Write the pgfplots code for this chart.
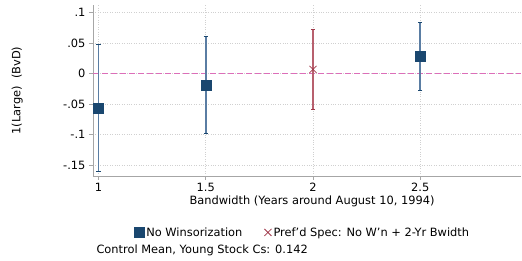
\documentclass[border=0pt]{standalone}
\usepackage{fontspec}
\setmainfont{DejaVu Sans}
\usepackage{pgfplots}
\pgfplotsset{compat=1.18}
\definecolor{navy}{HTML}{1A476F}
\definecolor{navyci}{HTML}{5A7DA3}
\definecolor{cran}{HTML}{A0394A}
\definecolor{cranci}{HTML}{B8606E}
\definecolor{gridc}{HTML}{D0D0D0}
\definecolor{axc}{HTML}{A6A6A6}
\newcommand{\fs}{\fontsize{11.4}{13}\selectfont}
\begin{document}
\begin{tikzpicture}[x=1pt,y=1pt]
\path[use as bounding box] (0,0) rectangle (522,261);
\begin{axis}[
  at={(93pt,85pt)}, anchor=south west,
  scale only axis, width=428pt, height=171pt,
  xmin=0.974, xmax=2.97, ymin=-0.168, ymax=0.112,
  axis lines*=left, axis line style={axc,-, line width=0.8pt},
  xtick={1,1.5,2,2.5}, xticklabels={1,1.5,2,2.5},
  ytick={-0.15,-0.1,-0.05,0,0.05,0.1},
  yticklabels={-.15,-.1,-.05,0,.05,.1},
  /pgf/number format/assume math mode=true,
  tick style={axc, line width=0.6pt}, tick align=outside, major tick length=4pt,
  ticklabel style={font=\fs, text=black},
  xmajorgrids, ymajorgrids,
  grid style={gridc, dotted, line width=0.7pt},
  xlabel={Bandwidth (Years around August 10, 1994)},
  ylabel={1(Large)\ \ (BvD)},
  label style={font=\fs},
  xlabel style={xshift=5pt, yshift=3pt},
  ylabel style={at={(axis description cs:-0.177,0.5)}, anchor=center},
  clip=false,
  legend columns=2,
  legend style={at={(axis description cs:0.49,-0.33)}, anchor=center, draw=none,
    font=\fs, /tikz/every even column/.append style={column sep=20pt},
    /tikz/every odd column/.append style={column sep=0pt}},
  legend cell align=left,
  legend image code/.code={\draw[#1, only marks] plot coordinates {(0.15cm,0cm)};},
]
\addplot[draw={rgb,255:red,220;green,110;blue,185}, color={rgb,255:red,220;green,110;blue,185}, line width=1.2pt, dash pattern=on 6pt off 3pt, forget plot, mark=none] coordinates {(0.974,0) (2.97,0)};
\addplot[draw=none, forget plot, mark=none,
  error bars/.cd, y dir=both, y explicit,
  error bar style={navyci, line width=1.8pt},
  error mark options={navy, rotate=90, mark size=2.2pt, line width=1pt}]
  coordinates {(1,-0.0564) +- (0,0.1040) (1.5,-0.0192) +- (0,0.0790) (2.5,0.0284) +- (0,0.0556)};
\addplot[draw=none, forget plot, mark=none,
  error bars/.cd, y dir=both, y explicit,
  error bar style={cranci, line width=1.8pt},
  error mark options={cran, rotate=90, mark size=2.2pt, line width=1pt}]
  coordinates {(2,0.0066) +- (0,0.0650)};
\addplot[only marks, mark=square*, mark size=5pt, navy] coordinates {(1,-0.0564) (1.5,-0.0192) (2.5,0.0284)};
\addlegendentry{No Winsorization}
\addplot[only marks, mark=x, mark size=5pt, cran, line width=0.8pt] coordinates {(2,0.0066)};
\addlegendentry{Pref'd Spec: No W'n + 2-Yr Bwidth}
\end{axis}
\node[anchor=west, font=\fs] at (93,11) {Control Mean, Young Stock Cs: 0.142};
\end{tikzpicture}
\end{document}
